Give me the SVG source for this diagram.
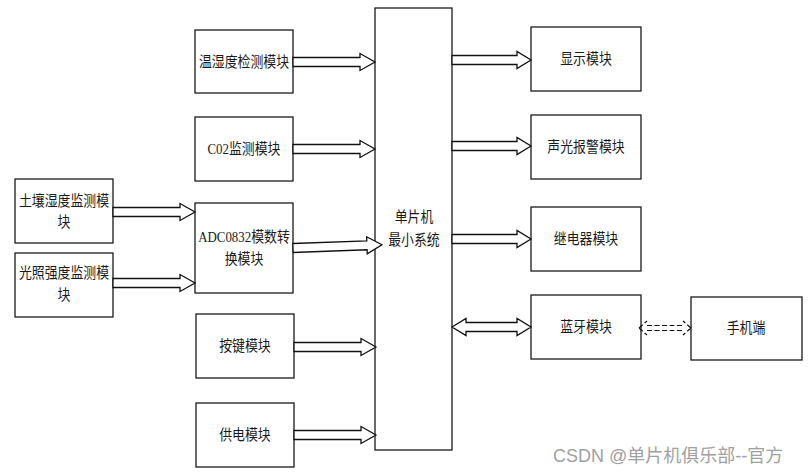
<svg xmlns="http://www.w3.org/2000/svg" width="811" height="475" viewBox="0 0 811 475">
<style>
.box{fill:#fff;stroke:#1a1a1a;stroke-width:1.3}
.lbl{font-family:"Liberation Serif","Noto Sans CJK SC",serif;font-size:15px;fill:#1a1a1a;text-anchor:middle;dominant-baseline:central;transform-box:fill-box;transform-origin:center;transform:scaleX(0.86)}
.arr{fill:#fff;stroke:#111;stroke-width:1.3;stroke-linejoin:miter}
.dash{fill:none;stroke:#111;stroke-width:1.2;stroke-dasharray:5 2.5}
.wm{font-family:"Liberation Sans","Noto Sans CJK SC",sans-serif;font-size:18px;fill:#a0a0a0}
</style>
<rect width="811" height="475" fill="#fff"/>
<g id="mcu"><rect class="box" x="375" y="8" width="77" height="442"/><text class="lbl" x="414" y="217">单片机</text><text class="lbl" x="414" y="240">最小系统</text></g>
<g id="temp"><rect class="box" x="195" y="30" width="98" height="63"/><text class="lbl" x="244" y="62">温湿度检测模块</text></g>
<g id="co2"><rect class="box" x="195" y="117" width="98" height="64"/><text class="lbl" x="244" y="149">C02监测模块</text></g>
<g id="adc"><rect class="box" x="195" y="203" width="98" height="90"/><text class="lbl" x="244" y="237">ADC0832模数转</text><text class="lbl" x="244" y="259">换模块</text></g>
<g id="key"><rect class="box" x="196" y="314" width="98" height="64"/><text class="lbl" x="245" y="346">按键模块</text></g>
<g id="power"><rect class="box" x="196" y="403" width="98" height="64"/><text class="lbl" x="245" y="435">供电模块</text></g>
<g id="soil"><rect class="box" x="15" y="179" width="98" height="64"/><text class="lbl" x="64" y="201">土壤湿度监测模</text><text class="lbl" x="64" y="222">块</text></g>
<g id="light"><rect class="box" x="15" y="253" width="98" height="64"/><text class="lbl" x="64" y="273">光照强度监测模</text><text class="lbl" x="64" y="295">块</text></g>
<g id="display"><rect class="box" x="531" y="27" width="110" height="64"/><text class="lbl" x="586" y="59">显示模块</text></g>
<g id="alarm"><rect class="box" x="531" y="115" width="110" height="64"/><text class="lbl" x="586" y="147">声光报警模块</text></g>
<g id="relay"><rect class="box" x="531" y="207" width="110" height="64"/><text class="lbl" x="586" y="239">继电器模块</text></g>
<g id="bt"><rect class="box" x="531" y="295" width="110" height="64"/><text class="lbl" x="586" y="327">蓝牙模块</text></g>
<g id="phone"><rect class="box" x="691" y="297" width="111" height="63"/><text class="lbl" x="746" y="328">手机端</text></g>
<g id="connectors">
<path class="arr" d="M293 57.5H360V53.5L375 62L360 70.5V66.5H293Z"/>
<path class="arr" d="M293 144.5H360V140.5L375 149L360 157.5V153.5H293Z"/>
<path class="arr" transform="rotate(-2.1 293 248)" d="M293 243.5H367V239.5L382 248L367 256.5V252.5H293Z"/>
<path class="arr" d="M294 342.5H361V338.5L376 347L361 355.5V351.5H294Z"/>
<path class="arr" d="M294 430.5H361V426.5L376 435L361 443.5V439.5H294Z"/>
<path class="arr" d="M113 207.5H180V203.5L195 212L180 220.5V216.5H113Z"/>
<path class="arr" d="M113 278.5H180V274.5L195 283L180 291.5V287.5H113Z"/>
<path class="arr" d="M452 55.5H517V51.5L531 60L517 68.5V64.5H452Z"/>
<path class="arr" d="M452 141.5H517V137.5L531 146L517 154.5V150.5H452Z"/>
<path class="arr" d="M452 234.5H517V230.5L531 239L517 247.5V243.5H452Z"/>
<path class="arr" d="M452 327L466 318.5V322.5H517V318.5L531 327L517 335.5V331.5H466V335.5Z"/>
<path class="dash" d="M639 328L647 321M639 328L647 335M647 325.5H683M647 330.5H683M691 328L683 321M691 328L683 335"/>
</g>
<text class="wm" x="553" y="462">CSDN @单片机俱乐部--官方</text>
</svg>
